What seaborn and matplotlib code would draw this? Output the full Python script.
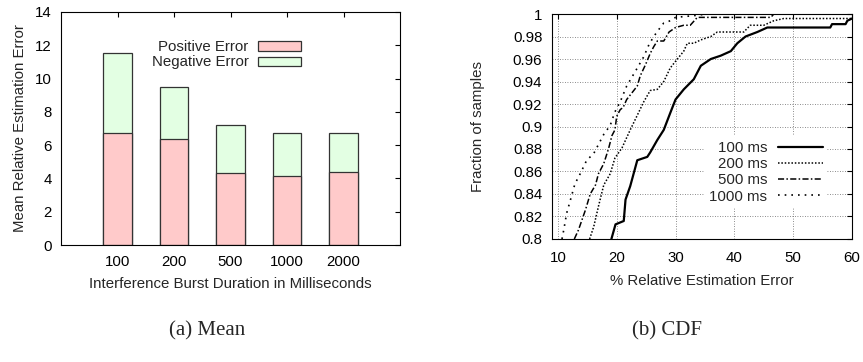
import numpy as np
import pandas as pd
import matplotlib
matplotlib.use("Agg")
import matplotlib.pyplot as plt
from matplotlib.ticker import FuncFormatter, MultipleLocator
import seaborn as sns

# ---------------- data ----------------
durations = ["100", "200", "500", "1000", "2000"]
positive_err = [6.75, 6.35, 4.3, 4.15, 4.4]
negative_err = [4.8, 3.15, 2.9, 2.55, 2.3]

e100 = [19.1, 19.8, 21.2, 21.5, 22.3, 23.5, 25.2, 25.7, 26.9, 28.0, 29.1, 30.0, 31.4, 33.1,
        34.3, 36.0, 37.7, 39.4, 40.5, 41.9, 43.9, 45.6, 56.3, 56.6, 58.9, 59.2, 60.0]
f100 = [0.800, 0.813, 0.816, 0.835, 0.847, 0.870, 0.873, 0.877, 0.888, 0.897, 0.912, 0.924, 0.933, 0.942,
        0.954, 0.960, 0.963, 0.967, 0.974, 0.980, 0.984, 0.988, 0.988, 0.991, 0.991, 0.994, 0.996]

e200 = [15.4, 16.1, 16.9, 17.8, 18.9, 19.7, 20.9, 22.3, 23.5, 24.6, 25.7, 26.9, 28.0, 29.1, 30.0,
        31.4, 32.0, 33.1, 34.3, 36.0, 37.1, 41.6, 42.7, 45.0, 46.7, 48.4, 60.0]
f200 = [0.800, 0.811, 0.829, 0.848, 0.858, 0.872, 0.881, 0.897, 0.910, 0.922, 0.932, 0.933, 0.940, 0.952, 0.958,
        0.967, 0.974, 0.974, 0.977, 0.980, 0.984, 0.984, 0.990, 0.990, 0.994, 0.996, 0.996]

e500 = [12.8, 13.5, 14.1, 14.7, 15.5, 16.4, 16.9, 17.8, 18.6, 19.2, 19.7, 20.0, 20.6, 21.1, 21.7,
        22.6, 23.5, 24.0, 24.9, 25.7, 26.3, 26.9, 28.0, 28.9, 30.0, 31.4, 32.5, 33.7, 46.2, 46.7, 60.0]
f500 = [0.800, 0.808, 0.817, 0.826, 0.840, 0.848, 0.858, 0.867, 0.880, 0.892, 0.897, 0.909, 0.915, 0.917, 0.924,
        0.930, 0.936, 0.945, 0.955, 0.965, 0.971, 0.976, 0.976, 0.984, 0.988, 0.990, 0.990, 0.997, 0.997, 1.000, 1.000]

e1000 = [10.7, 11.0, 11.5, 12.1, 12.9, 13.8, 14.9, 16.1, 16.9, 17.8, 18.9, 19.7, 20.6, 21.7, 22.6,
         23.5, 24.6, 25.5, 26.3, 27.4, 28.0, 29.1, 30.0, 34.0, 35.0, 60.0]
f1000 = [0.800, 0.808, 0.823, 0.834, 0.849, 0.858, 0.870, 0.876, 0.884, 0.893, 0.901, 0.913, 0.922, 0.936, 0.944,
         0.952, 0.962, 0.973, 0.980, 0.988, 0.992, 0.994, 0.997, 0.999, 1.000, 1.000]

series_labels = ["100 ms", "200 ms", "500 ms", "1000 ms"]

# ---------------- style ----------------
FS = 10.8
sns.set_style("white")
plt.rcParams["font.family"] = ["Liberation Sans", "DejaVu Sans"]
plt.rcParams["font.size"] = FS
plt.rcParams["axes.linewidth"] = 0.8
plt.rcParams["xtick.direction"] = "in"
plt.rcParams["ytick.direction"] = "in"

fig = plt.figure(figsize=(8.63, 3.62), dpi=100)
ax1 = fig.add_axes([0.0707, 0.3232, 0.3928, 0.6437])
ax2 = fig.add_axes([0.6396, 0.3398, 0.3477, 0.6215])

# ---------------- (a) Mean: stacked bars ----------------
bar_df = pd.DataFrame({
    "duration": durations,
    "positive": positive_err,
    "total": [p + n for p, n in zip(positive_err, negative_err)],
})
sns.barplot(data=bar_df, x="duration", y="total", order=durations, color="#e3ffe3",
            saturation=1, width=0.5, edgecolor="#333333", linewidth=0.9, ax=ax1,
            label="Negative Error")
sns.barplot(data=bar_df, x="duration", y="positive", order=durations, color="#ffcaca",
            saturation=1, width=0.5, edgecolor="#333333", linewidth=0.9, ax=ax1,
            label="Positive Error")
ax1.set_xlim(-1, 5)
ax1.set_ylim(0, 14)
ax1.yaxis.set_major_locator(MultipleLocator(2))
ax1.tick_params(axis="y", direction="in", length=3.5, width=0.8, right=True,
                labelsize=FS, colors="black", pad=6.5)
ax1.tick_params(axis="x", direction="in", length=3.5, width=0.8, top=True,
                labelsize=FS, colors="black", pad=7)
ax1.set_xlabel("Interference Burst Duration in Milliseconds", fontsize=FS, labelpad=6)
ax1.set_ylabel("Mean Relative Estimation Error", fontsize=FS, labelpad=6)
for s in ax1.spines.values():
    s.set_color("black")
handles, labels = ax1.get_legend_handles_labels()
order_idx = [labels.index("Positive Error"), labels.index("Negative Error")]
ax1.legend([handles[i] for i in order_idx], [labels[i] for i in order_idx],
           loc="upper right", bbox_to_anchor=(0.744, 0.93), frameon=False,
           markerfirst=False, handlelength=2.9, handleheight=0.55, handletextpad=0.6,
           labelspacing=0.08, borderpad=0.3, fontsize=FS)

# ---------------- (b) CDF ----------------
styles = [
    dict(linestyle="-", linewidth=1.6),
    dict(linestyle=(0, (1.0, 1.2)), linewidth=1.1),
    dict(linestyle=(0, (4, 1.5, 1, 1.5)), linewidth=1.1),
    dict(linestyle=(0, (1.0, 3.0)), linewidth=1.2),
]
xs = [e100, e200, e500, e1000]
ys = [f100, f200, f500, f1000]
for x, y, lab, st in zip(xs, ys, series_labels, styles):
    sns.lineplot(x=x, y=y, ax=ax2, color="black", label=lab, sort=False,
                 estimator=None, **st)
ax2.set_xlim(9, 60)
ax2.set_ylim(0.8, 1.0)
ax2.xaxis.set_major_locator(MultipleLocator(10))
ax2.yaxis.set_major_locator(MultipleLocator(0.02))
ax2.yaxis.set_major_formatter(FuncFormatter(lambda v, p: "%g" % round(v, 4)))
ax2.grid(True, color="#666666", linestyle=(0, (1, 2)), linewidth=0.6)
ax2.tick_params(axis="y", direction="in", length=3.5, width=0.8, right=True,
                labelsize=FS, colors="black", pad=7)
ax2.tick_params(axis="x", direction="in", length=3.5, width=0.8, top=True,
                labelsize=FS, colors="black", pad=9)
ax2.set_xlabel("% Relative Estimation Error", fontsize=FS, labelpad=6)
ax2.set_ylabel("Fraction of samples", fontsize=FS, labelpad=20)
for s in ax2.spines.values():
    s.set_color("black")
leg = ax2.legend(loc="upper right", bbox_to_anchor=(0.942, 0.49), frameon=True,
                 markerfirst=False, handlelength=3.0, handletextpad=0.7,
                 labelspacing=0.15, borderpad=0.3, fontsize=FS, fancybox=False,
                 framealpha=1)
leg.get_frame().set_facecolor("white")
leg.get_frame().set_edgecolor("none")

# ---------------- captions ----------------
fig.text(207 / 863, 1 - 331 / 362, "(a) Mean", ha="center", va="center",
         fontsize=15, family=["Liberation Serif", "DejaVu Serif"])
fig.text(667 / 863, 1 - 331 / 362, "(b) CDF", ha="center", va="center",
         fontsize=15, family=["Liberation Serif", "DejaVu Serif"])

fig.savefig("out.png", dpi=100, facecolor="white")
